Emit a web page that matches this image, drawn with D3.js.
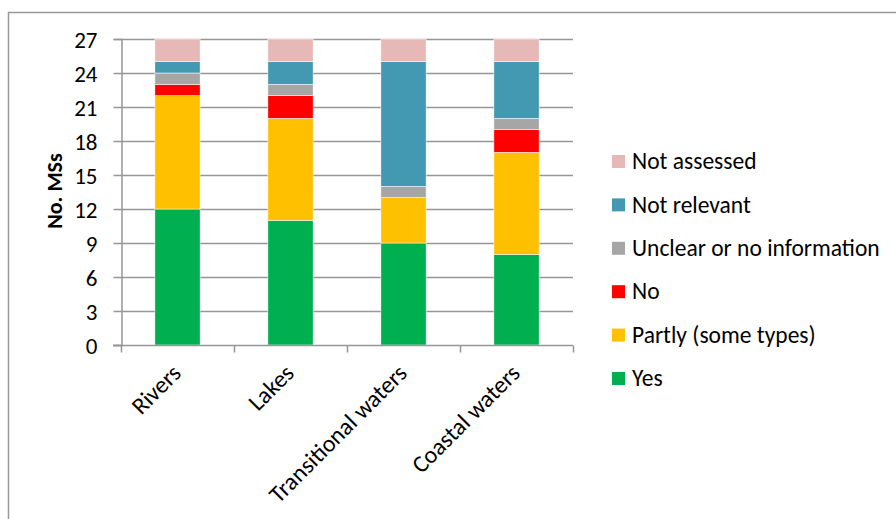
<!DOCTYPE html>
<html><head><meta charset="utf-8">
<script src="https://cdn.jsdelivr.net/npm/d3@7"></script>
<style>
html,body{margin:0;padding:0;background:#fff;}
svg text{font-family:Carlito,Lato,"Open Sans",sans-serif;fill:#000;}
</style></head>
<body><svg id="c" width="896" height="519"></svg>
<script>
const categories = ["Rivers","Lakes","Transitional waters","Coastal waters"];
const seriesNames = ["Yes","Partly (some types)","No","Unclear or no information","Not relevant","Not assessed"];
const yes         = [12, 11, 9, 8];
const partly      = [10, 9, 4, 9];
const no          = [1, 2, 0, 2];
const unclear     = [1, 1, 1, 1];
const notRelevant = [1, 2, 11, 5];
const notAssessed = [2, 2, 2, 2];
const yTicks = [0,3,6,9,12,15,18,21,24,27];
const colors = ["#00B050","#FFC000","#FF0000","#A6A6A6","#4399B1","#E6B9B8"];

const seriesValues = [yes, partly, no, unclear, notRelevant, notAssessed];
const table = categories.map((c,i)=>{
  const o = {cat:c};
  seriesNames.forEach((s,j)=> o[s] = seriesValues[j][i]);
  return o;
});
const stacked = d3.stack().keys(seriesNames)(table);

const svg = d3.select("#c");
svg.append("rect").attr("x",8.5).attr("y",12.5).attr("width",900).attr("height",520)
  .attr("fill","none").attr("stroke","#999").attr("stroke-width",1.5);

const FS = 23;
const pL = 121, pR = 573, pT = 39, pB = 345;
const x = d3.scaleBand().domain(categories).range([pL,pR]).paddingInner(0.6).paddingOuter(0.3);
const xb = d3.scaleBand().domain(categories).range([pL,pR]);
const y = d3.scaleLinear().domain([0,27]).range([pB,pT]);

svg.append("g").selectAll("line").data(yTicks.filter(t=>t>0)).join("line")
  .attr("x1",pL).attr("x2",pR).attr("y1",d=>y(d)+0.5).attr("y2",d=>y(d)+0.5)
  .attr("stroke","#969696").attr("stroke-width",1.5);

svg.append("g").selectAll("g").data(stacked).join("g")
  .attr("fill",(d,i)=>colors[i])
  .selectAll("rect").data(d=>d).join("rect")
  .attr("x",d=>x(d.data.cat)).attr("width",x.bandwidth())
  .attr("y",d=>y(d[1])).attr("height",d=>y(d[0])-y(d[1]))
  .attr("stroke","#fff").attr("stroke-width",0.5);

const yAxis = d3.axisLeft(y).tickValues(yTicks).tickSize(8).tickPadding(16);
const gy = svg.append("g").attr("transform",`translate(${pL+0.5},0)`).call(yAxis);
gy.select(".domain").attr("stroke","#969696").attr("stroke-width",1.5);
gy.selectAll(".tick line").attr("stroke","#969696").attr("stroke-width",1.5);
gy.selectAll("text").attr("font-size",FS).attr("fill","#000").attr("font-family",null).attr("dy","0.35em");

const gx = svg.append("g").attr("transform",`translate(0,${pB+0.5})`);
gx.append("line").attr("x1",pL-8).attr("x2",pR).attr("stroke","#969696").attr("stroke-width",1.5);
gx.selectAll("line.t").data(categories.concat(["end"])).join("line").attr("class","t")
  .attr("x1",(d,i)=>pL+i*xb.bandwidth()+0.5).attr("x2",(d,i)=>pL+i*xb.bandwidth()+0.5)
  .attr("y1",0).attr("y2",7).attr("stroke","#969696").attr("stroke-width",1.5);
gx.selectAll("text").data(categories).join("text")
  .attr("transform",d=>`translate(${x(d)+x.bandwidth()/2+5},${29}) rotate(-45)`)
  .attr("text-anchor","end").attr("font-size",24).text(d=>d);

svg.append("text").attr("transform",`translate(62,191) rotate(-90)`)
  .attr("text-anchor","middle").attr("font-size",22).attr("font-weight","bold").text("No. MSs");

const legendOrder = seriesNames.map((s,i)=>({s,c:colors[i]})).reverse();
const lg = svg.append("g").selectAll("g").data(legendOrder).join("g")
  .attr("transform",(d,i)=>`translate(612,${161+i*43.4})`);
lg.append("rect").attr("x",0).attr("y",-6).attr("width",13).attr("height",13).attr("fill",d=>d.c);
lg.append("text").attr("x",20).attr("y",0).attr("dy","0.35em").attr("font-size",23.5).text(d=>d.s);
</script></body></html>
